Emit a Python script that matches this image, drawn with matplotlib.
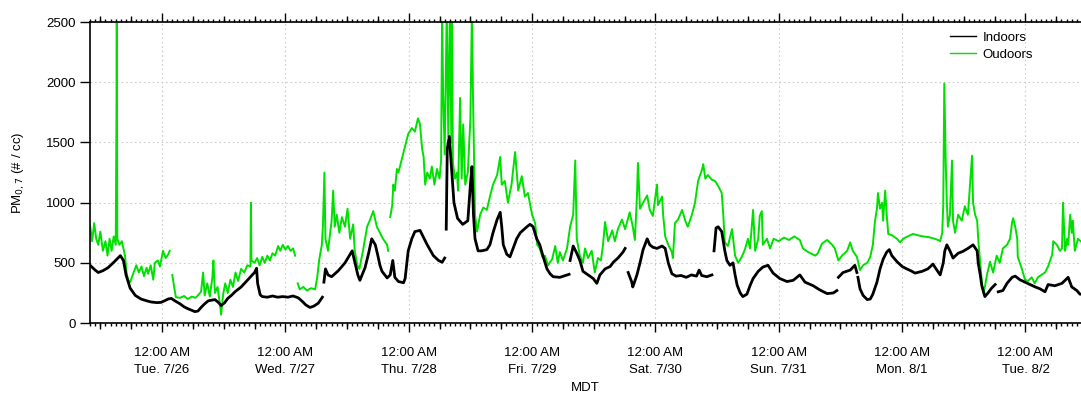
import numpy as np
import pandas as pd
import matplotlib
matplotlib.use("Agg")
import matplotlib.pyplot as plt
import matplotlib.dates as mdates
from matplotlib.ticker import FuncFormatter, NullFormatter
from matplotlib.lines import Line2D

plt.rcParams['font.family'] = ['Liberation Sans', 'DejaVu Sans']

# hours since 2016-07-25 00:00 MDT, values in #/cc (nan = gap in record)
nan = np.nan
t_in = [10, 11, 11.6, 12.5, 13.5, 14.5, 15.2, 15.9, 16.5, 17, 17.8, 18.8, 19.9, 21, 21.9, 23, 23.8,
        24.5, 25.2, 25.8, 26.5, 27.5, 28.3, 29, 30.4, 31, 31.6, 32.3, 33, 34.3, 35, 35.5, 36.2, 36.8,
        37.5, 38.2, 39.4, 40.7, 42, 42.4, 42.6, 43.1, 43.5, 44.5, 45.5, 46.5, 47.5, 48.5, 49.5, 50.5,
        51.3, 52, 52.8, 53.5, 54.4, 55.2, 55.35, 55.5, 55.8, 56.3, 57, 58.3, 59.6, 61, 61.5, 62.1, 62.5,
        63.5, 64.2, 64.8, 65.5, 66, 66.4, 66.8, 67.8, 68.4, 68.9, 69.3, 70, 71, 71.3, 71.9, 72.6, 73.2,
        74.2, 75.6, 76.8, 77.8, 78.5, 79, 79.15, 79.3, 79.5, 79.9, 80.4, 80.8, 81.5, 82.5, 83.5, 84,
        84.3, 84.6, 84.9, 85.5, 86.2, 87.2, 87.8, 88.4, 89.2, 89.8, 90.1, 90.4, 91.1, 91.7, 92.3, 93,
        93.7, 95, 95.6, 96.2, 96.9, 97.5, 98.1, 98.9, 99.5, 100.1, 101.4, 102.8, 103.2, 103.3, 103.4,
        104, 104.7, 105.3, 105.9, 106.9, 107.9, 108.6, 109.2, 110.2, 111.2, 111.8, 112.7, 113.7, 114.1,
        114.4, 114.7, 115.4, 115.6, 116.4, 117, 117.6, 118.4, 118.9, 119.5, 120.3, 121.3, 121.9, 122.5,
        123.2, 124, 125, 126, 127, 128, 128.5, 129, 130, 131, 131.2, 131.4, 131.8, 132.2, 132.9, 133.5,
        133.9, 134.5, 135.1, 135.5, 135.9, 136.5, 137, 137.8, 138.4, 139, 140, 140.9, 141.9, 142.9,
        144.2, 145.6, 146.8, 148.1, 149.1, 150.7, 152, 153.4, 154.6, 155.3, 155.45, 155.6, 156.5, 157.9,
        158.8, 159.2, 159.3, 159.4, 159.8, 160.4, 161.2, 161.8, 162.3, 163.1, 163.7, 164.3, 165, 165.5,
        166, 167, 168, 168.9, 169.9, 170.5, 171.9, 173, 174, 174.6, 175.4, 176, 176.3, 176.7, 177.3,
        177.9, 178.9, 179.8, 180.8, 181.8, 182.6, 182.8, 183.2, 183.5, 184.1, 184.7, 185.4, 186.1, 186.4,
        186.7, 187.6, 188.4, 189.4, 190, 190.9, 191.9, 192.9, 193.9, 194.8, 195.8, 196.4, 197.7, 199.1,
        200.3, 201, 202, 202.6, 203.5]
v_in = [480, 440, 420, 435, 460, 500, 530, 560, 520, 400, 290, 230, 200, 185, 175, 170, 172,
        185, 200, 205, 185, 160, 135, 120, 95, 100, 130, 160, 185, 195, 170, 145, 170, 205,
        230, 260, 300, 360, 420, 455, 330, 235, 220, 215, 225, 215, 220, 215, 225, 210,
        180, 150, 130, 140, 165, 215, nan, 340, 450, 400, 385, 435, 500, 600, 510, 400, 355,
        460, 580, 700, 650, 560, 480, 430, 375, 400, 520, 380, 345, 335, 370, 600, 700, 760,
        770, 650, 560, 520, 505, 540, nan, 780, 1450, 1550, 1240, 1000, 870, 820, 850, 1150,
        1300, 900, 700, 600, 600, 610, 650, 750, 860, 920, 800, 650, 570, 550, 620, 700,
        750, 800, 820, 800, 700, 650, 560, 450, 410, 385, 380, 400, 405, nan, 520,
        640, 580, 520, 430, 400, 370, 330, 400, 450, 470, 505, 540, 590, 620,
        nan, 420, 340, 300, 400, 500, 610, 700, 650, 630, 620, 640, 620, 500,
        410, 390, 395, 380, 400, 390, 440, 395, 385, 400, nan, 600, 790, 800, 760, 600,
        520, 480, 500, 400, 315, 250, 220, 240, 310, 370, 430, 465, 480, 415,
        370, 345, 355, 400, 340, 310, 275, 245, 250, 270, nan, 380, 420, 440,
        480, 420, nan, 380, 285, 230, 195, 200, 240, 340, 450, 530, 590, 610,
        560, 510, 470, 450, 430, 415, 430, 450, 490, 450, 400, 500, 600, 650, 600,
        540, 580, 595, 620, 650, 600, 500, 400, 310, 220, 250, 290, 320, nan,
        260, 270, 330, 380, 390, 360, 340, 320, 300, 285, 260, 320, 310, 330,
        380, 300, 270, 240, 240]

t_out = [10, 10.4, 10.8, 11.2, 11.6, 12, 12.5, 13, 13.4, 13.8, 14.2, 14.6, 15, 15.15, 15.2, 15.3, 15.7,
         16.2, 16.8, 17.1, 17.4, 17.8, 18.3, 19, 19.5, 20, 20.5, 21, 21.3, 21.8, 22.3, 22.6, 23.2, 23.6,
         24.2, 24.7, 25.2, 25.5, 25.7, 26, 26.4, 26.7, 27.5, 28.3, 29, 29.8, 30.5, 31, 31.6, 32, 32.3,
         32.8, 33.3, 33.8, 34, 34.3, 34.8, 35.2, 35.5, 35.9, 36.3, 36.8, 37.3, 37.8, 38.3, 38.8, 39.4,
         40, 40.6, 41.2, 41.3, 41.4, 42, 42.5, 43, 43.5, 44, 44.5, 45, 45.5, 46, 46.6, 47, 47.5, 48,
         48.5, 49, 49.5, 49.9, 50.1, 50.4, 50.8, 51.5, 52.2, 53, 53.8, 54.2, 54.6, 55.1, 55.3, 55.6,
         55.8, 56.3, 57, 57.3, 57.6, 58, 58.5, 59, 59.6, 60.1, 60.6, 61.2, 61.5, 62, 62.4, 63.1, 63.9,
         64.5, 65.1, 65.8, 66.4, 67, 67.8, 68, 68.2, 68.4, 68.8, 69, 69.3, 69.7, 70, 70.7, 71.3, 71.9,
         72.6, 73.2, 73.8, 74.2, 74.6, 74.9, 75.2, 75.6, 76.1, 76.5, 77, 77.5, 78, 78.3, 78.5, 78.7, 79,
         79.4, 79.7, 80, 80.3, 80.4, 80.6, 81, 81.4, 81.6, 82, 82.3, 82.6, 83, 83.5, 84, 84.3, 84.5,
         84.9, 85.3, 85.9, 86.5, 87.2, 87.8, 88.4, 89.2, 89.8, 90.1, 90.7, 91.3, 92, 92.7, 93.3, 94,
         94.6, 95.2, 96, 96.6, 97, 97.5, 98, 98.5, 99.1, 99.9, 100.5, 101, 101.4, 102, 102.8, 103.4,
         104, 104.4, 104.7, 105.3, 105.9, 106.3, 106.9, 107.6, 108.2, 108.8, 109.4, 109.8, 110.2, 110.8,
         111.6, 112.1, 112.7, 113.5, 114.1, 115, 115.6, 116, 116.4, 116.6, 117, 117.6, 118.4, 118.9,
         119.5, 120.3, 120.5, 121.3, 121.5, 121.9, 122.5, 123.2, 123.4, 123.8, 124.4, 125.2, 125.8,
         126.3, 127.1, 127.7, 128.3, 129.1, 129.3, 129.7, 130.2, 131, 131.6, 132.2, 132.9, 133.2, 133.5,
         134.1, 134.9, 135.5, 136.1, 136.8, 137.4, 138, 138.4, 139, 139.4, 140, 140.3, 140.7, 140.9,
         141.7, 142.3, 143, 144, 145, 146, 147, 148.1, 148.7, 149.7, 151.1, 151.6, 152.4, 153.4, 154.4,
         154.9, 155.6, 156.3, 157.3, 157.9, 158.4, 159.2, 159.8, 160.4, 161.2, 161.8, 162.3, 162.7,
         163.1, 163.3, 163.7, 164.1, 164.3, 164.7, 165, 165.3, 166, 167, 167.6, 168.2, 169.1, 170.1,
         171, 172, 173, 174, 175, 175.4, 175.8, 176, 176.2, 176.5, 176.7, 176.9, 177.3, 177.7, 177.9,
         178.3, 178.9, 179.6, 180.2, 180.8, 181.6, 181.8, 182.2, 182.6, 182.8, 183.2, 183.5, 183.8,
         184.1, 184.5, 185.1, 185.7, 186.4, 187, 187.6, 188.4, 189, 189.4, 189.6, 190, 190.4, 190.5,
         191.3, 191.9, 192.5, 193.2, 193.8, 194.4, 195.1, 195.8, 196.4, 197.2, 197.4, 198.1, 198.7,
         199.1, 199.3, 199.7, 200.1, 200.3, 200.7, 201, 201.2, 201.6, 202.2, 203.5]
v_out = [810, 680, 830, 700, 650, 760, 600, 680, 560, 700, 600, 720, 650, 1850, 2600, 700, 650,
         680, 560, 420, 360, 340, 400, 480, 420, 470, 390, 460, 410, 480, 360, 500, 520, 470,
         600, 540, 570, 600, nan, 400, 290, 215, 210, 225, 200, 220, 210, 230, 260, 420, 230,
         330, 220, 380, 520, 250, 300, 180, 70, 240, 330, 250, 360, 300, 420, 350, 450,
         420, 480, 470, 1000, 520, 500, 540, 480, 550, 500, 560, 520, 580, 560, 640, 600, 650, 610,
         640, 600, 620, 560, nan, 330, 280, 300, 270, 290, 280, 380, 530, 650, 800, 1250,
         700, 600, 850, 1100, 800, 900, 750, 880, 800, 950, 700, 820, 600, 480, 450, 600, 800,
         860, 930, 800, 750, 700, 650, 600, nan, 880, 980, 1150, 1100, 1280, 1250, 1370, 1470, 1570,
         1620, 1590, 1700, 1650, 1450, 1380, 1150, 1250, 1200, 1300, 1150, 1280, 1200, 1350, 2600, 1900, 1400,
         2600, 1550, 2600, 1500, 2600, 1330, 1200, 1250, 1100, 1870, 1200, 1650, 1150, 1250, 1700, 2600, 1900,
         900, 760, 900, 960, 940, 1050, 1150, 1230, 1380, 1150, 1180, 1000, 1150, 1420, 1100, 1220,
         1050, 1080, 900, 830, 650, 620, 550, 560, 480, 530, 640, 500, 590, 520, 620, 800,
         900, 1350, 700, 560, 500, 620, 540, 600, 420, 540, 520, 650, 840, 680,
         770, 680, 780, 860, 780, 920, 800, 690, 1050, 1330, 950, 1000, 1060, 940,
         890, 1150, 980, 1050, 900, 720, 650, 590, 540, 830, 860, 940, 850,
         800, 900, 1000, 1180, 1280, 1320, 1200, 1230, 1190, 1180, 1140, 1080, 900, 670,
         640, 780, 560, 500, 550, 610, 700, 620, 940, 600, 700, 890, 930, 650,
         700, 620, 700, 680, 710, 690, 720, 690, 620, 590, 560, 580, 660, 690, 650,
         620, 520, 560, 600, 670, 600, 550, 440, 480, 500, 550, 650, 840,
         950, 1080, 950, 1000, 850, 1100, 900, 740, 730, 700, 670, 700, 720, 740,
         730, 720, 715, 705, 690, 680, 750, 980, 1990, 1300, 1000, 800, 900, 1350, 850,
         750, 900, 850, 970, 900, 1390, 1000, 900, 850, 700, 500, 340, 250,
         300, 400, 510, 420, 560, 500, 620, 650, 700, 840, 870, 800, 700, 550,
         450, 360, 350, 380, 330, 380, 400, 420, 470, 570, 680, 650, 600,
         620, 1000, 600, 700, 650, 900, 750, 850, 600, 700, 650]

day0 = pd.Timestamp("2016-07-25")
time_in = day0 + pd.to_timedelta(t_in, unit="h")
time_out = day0 + pd.to_timedelta(t_out, unit="h")

green = "#00e000"

fig = plt.figure(figsize=(10.81, 3.94), dpi=100)
ax = fig.add_axes([0.0833, 0.180, 0.9167, 0.764])

ax.plot(time_in, v_in, color="black", lw=2.0, zorder=3)
ax.plot(time_out, v_out, color=green, lw=1.4, zorder=2)

ax.set_xlim(day0 + pd.Timedelta(hours=10), day0 + pd.Timedelta(hours=202.8))
ax.set_ylim(0, 2500)
ax.set_yticks(np.arange(0, 2501, 500))

ax.xaxis.set_major_locator(mdates.HourLocator(byhour=0))
ax.xaxis.set_minor_locator(mdates.HourLocator(interval=1))


def fmt_day(x, pos):
    d = mdates.num2date(x)
    return "12:00 AM\n%s. %d/%d" % (d.strftime("%a"), d.month, d.day)


ax.xaxis.set_major_formatter(FuncFormatter(fmt_day))

ax.grid(True, which="major", color="#cccccc", linestyle=(0, (1.5, 2.5)), lw=0.8)
ax.tick_params(axis="x", which="major", labelsize=9.5, length=6.5, width=1, direction="out",
               top=True, pad=11)
ax.tick_params(axis="x", which="minor", length=2.5, width=1, direction="out", top=True)
ax.tick_params(axis="y", which="major", labelsize=9.5, length=7, width=1, direction="out")
ax.spines["right"].set_visible(False)
for s in ("left", "bottom", "top"):
    ax.spines[s].set_linewidth(1.2)

# 6-hourly medium ticks on top and bottom
for side in ("top", "bottom"):
    sec = ax.secondary_xaxis(side)
    sec.xaxis.set_major_locator(mdates.HourLocator(byhour=[6, 12, 18]))
    sec.xaxis.set_major_formatter(NullFormatter())
    sec.tick_params(length=4.3, width=1, direction="out")
    sec.spines[side].set_visible(False)

ax.set_ylabel("PM$_{0,7}$ (# / cc)", fontsize=9.5)
ax.yaxis.set_label_coords(-0.064, 0.5)
ax.set_xlabel("MDT", fontsize=9.5, labelpad=4)
for lab in ax.get_xticklabels():
    lab.set_linespacing(1.55)

handles = [Line2D([], [], color="black", lw=1.0), Line2D([], [], color=green, lw=1.0)]
ax.legend(handles, ["Indoors", "Oudoors"], loc="upper left", bbox_to_anchor=(0.858, 1.0),
          frameon=False, fontsize=9.5, handlelength=2.0, handletextpad=0.5,
          labelspacing=0.4, borderaxespad=0.3)

fig.savefig("out.png", dpi=100)
